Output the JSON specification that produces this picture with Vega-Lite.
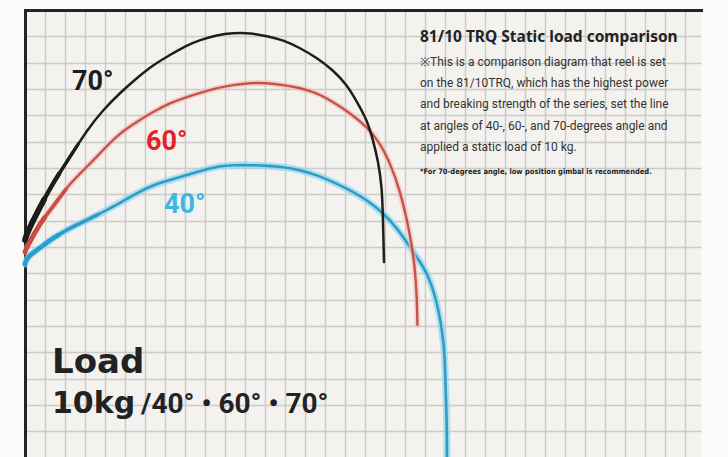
{
  "$schema": "https://vega.github.io/schema/vega-lite/v6.json",
  "width": 676,
  "height": 447,
  "autosize": {"type": "none"},
  "padding": {"left": 25, "top": 10, "right": 27, "bottom": 0},
  "background": "#fbfbfa",
  "config": {
    "view": {"fill": "#f3f2ee", "stroke": null},
    "axis": {"grid": true, "gridColor": "#cbcbc8", "gridWidth": 1.4, "domain": true, "domainColor": "#242424", "domainWidth": 3, "domainCap": "square", "ticks": false, "labels": false, "title": null}
  },
  "datasets": {
    "curves": [
      {"s": "70", "i": 0, "x": 0, "y": 8.74}, {"s": "70", "i": 1, "x": 0.1, "y": 8.47}, {"s": "70", "i": 2, "x": 0.75, "y": 7.48}, {"s": "70", "i": 3, "x": 1.4, "y": 6.57}, {"s": "70", "i": 4, "x": 2.25, "y": 5.58}, {"s": "70", "i": 5, "x": 3.1, "y": 4.56}, {"s": "70", "i": 6, "x": 3.9, "y": 3.8}, {"s": "70", "i": 7, "x": 4.75, "y": 3.15}, {"s": "70", "i": 8, "x": 5.6, "y": 2.58}, {"s": "70", "i": 9, "x": 6.4, "y": 2.09}, {"s": "70", "i": 10, "x": 7.25, "y": 1.71}, {"s": "70", "i": 11, "x": 8.0, "y": 1.37}, {"s": "70", "i": 12, "x": 8.75, "y": 1.14}, {"s": "70", "i": 13, "x": 9.6, "y": 0.95}, {"s": "70", "i": 14, "x": 10.4, "y": 0.87}, {"s": "70", "i": 15, "x": 11.25, "y": 0.87}, {"s": "70", "i": 16, "x": 12.1, "y": 0.99}, {"s": "70", "i": 17, "x": 12.9, "y": 1.14}, {"s": "70", "i": 18, "x": 13.75, "y": 1.44}, {"s": "70", "i": 19, "x": 14.6, "y": 1.82}, {"s": "70", "i": 20, "x": 15.4, "y": 2.28}, {"s": "70", "i": 21, "x": 16.1, "y": 2.85}, {"s": "70", "i": 22, "x": 16.6, "y": 3.49}, {"s": "70", "i": 23, "x": 17.1, "y": 4.18}, {"s": "70", "i": 24, "x": 17.4, "y": 4.94}, {"s": "70", "i": 25, "x": 17.65, "y": 5.7}, {"s": "70", "i": 26, "x": 17.85, "y": 6.72}, {"s": "70", "i": 27, "x": 17.9, "y": 7.98}, {"s": "70", "i": 28, "x": 17.95, "y": 9.57},
      {"s": "60", "i": 0, "x": 0, "y": 9.19}, {"s": "60", "i": 1, "x": 0.1, "y": 9.0}, {"s": "60", "i": 2, "x": 0.75, "y": 8.09}, {"s": "60", "i": 3, "x": 1.4, "y": 7.48}, {"s": "60", "i": 4, "x": 2.25, "y": 6.57}, {"s": "60", "i": 5, "x": 3.1, "y": 5.96}, {"s": "60", "i": 6, "x": 3.9, "y": 5.32}, {"s": "60", "i": 7, "x": 4.75, "y": 4.67}, {"s": "60", "i": 8, "x": 5.6, "y": 4.25}, {"s": "60", "i": 9, "x": 6.4, "y": 3.87}, {"s": "60", "i": 10, "x": 7.25, "y": 3.53}, {"s": "60", "i": 11, "x": 8.1, "y": 3.3}, {"s": "60", "i": 12, "x": 8.9, "y": 3.11}, {"s": "60", "i": 13, "x": 9.6, "y": 2.96}, {"s": "60", "i": 14, "x": 10.4, "y": 2.85}, {"s": "60", "i": 15, "x": 11.25, "y": 2.77}, {"s": "60", "i": 16, "x": 12.1, "y": 2.77}, {"s": "60", "i": 17, "x": 12.9, "y": 2.85}, {"s": "60", "i": 18, "x": 13.75, "y": 2.96}, {"s": "60", "i": 19, "x": 14.6, "y": 3.15}, {"s": "60", "i": 20, "x": 15.4, "y": 3.49}, {"s": "60", "i": 21, "x": 16.25, "y": 3.91}, {"s": "60", "i": 22, "x": 17.1, "y": 4.44}, {"s": "60", "i": 23, "x": 17.75, "y": 5.05}, {"s": "60", "i": 24, "x": 18.25, "y": 5.81}, {"s": "60", "i": 25, "x": 18.75, "y": 6.84}, {"s": "60", "i": 26, "x": 19.25, "y": 8.47}, {"s": "60", "i": 27, "x": 19.5, "y": 9.76}, {"s": "60", "i": 28, "x": 19.6, "y": 11.01}, {"s": "60", "i": 29, "x": 19.62, "y": 11.96},
      {"s": "40", "i": 0, "x": 0, "y": 9.65}, {"s": "40", "i": 1, "x": 0.1, "y": 9.38}, {"s": "40", "i": 2, "x": 0.75, "y": 9.04}, {"s": "40", "i": 3, "x": 1.4, "y": 8.66}, {"s": "40", "i": 4, "x": 2.25, "y": 8.28}, {"s": "40", "i": 5, "x": 3.1, "y": 7.98}, {"s": "40", "i": 6, "x": 3.9, "y": 7.67}, {"s": "40", "i": 7, "x": 4.75, "y": 7.33}, {"s": "40", "i": 8, "x": 5.6, "y": 6.95}, {"s": "40", "i": 9, "x": 6.4, "y": 6.65}, {"s": "40", "i": 10, "x": 7.25, "y": 6.46}, {"s": "40", "i": 11, "x": 8.1, "y": 6.27}, {"s": "40", "i": 12, "x": 8.9, "y": 6.08}, {"s": "40", "i": 13, "x": 9.75, "y": 5.92}, {"s": "40", "i": 14, "x": 10.4, "y": 5.89}, {"s": "40", "i": 15, "x": 11.25, "y": 5.89}, {"s": "40", "i": 16, "x": 12.1, "y": 5.92}, {"s": "40", "i": 17, "x": 12.9, "y": 5.96}, {"s": "40", "i": 18, "x": 13.75, "y": 6.08}, {"s": "40", "i": 19, "x": 14.6, "y": 6.27}, {"s": "40", "i": 20, "x": 15.4, "y": 6.53}, {"s": "40", "i": 21, "x": 16.25, "y": 6.84}, {"s": "40", "i": 22, "x": 17.1, "y": 7.22}, {"s": "40", "i": 23, "x": 17.9, "y": 7.71}, {"s": "40", "i": 24, "x": 18.6, "y": 8.28}, {"s": "40", "i": 25, "x": 19.25, "y": 9.0}, {"s": "40", "i": 26, "x": 19.75, "y": 9.57}, {"s": "40", "i": 27, "x": 20.1, "y": 9.99}, {"s": "40", "i": 28, "x": 20.5, "y": 10.82}, {"s": "40", "i": 29, "x": 20.75, "y": 11.66}, {"s": "40", "i": 30, "x": 20.95, "y": 12.72}, {"s": "40", "i": 31, "x": 21.0, "y": 13.56}, {"s": "40", "i": 32, "x": 21.05, "y": 14.81}, {"s": "40", "i": 33, "x": 21.1, "y": 15.95}, {"s": "40", "i": 34, "x": 21.1, "y": 16.98}
    ],
    "angles": [
      {"label": "70°", "x": 2.35, "y": 3.04},
      {"label": "60°", "x": 6.05, "y": 5.32},
      {"label": "40°", "x": 6.95, "y": 7.71}
    ],
    "notes": [
      {"kind": "title", "label": "81/10 TRQ Static load comparison", "x": 19.75, "y": 1.215},
      {"kind": "body", "label": "※This is a comparison diagram that reel is set", "x": 19.75, "y": 2.115},
      {"kind": "body", "label": "on the 81/10TRQ, which has the highest power", "x": 19.75, "y": 2.91},
      {"kind": "body", "label": "and breaking strength of the series, set the line", "x": 19.75, "y": 3.72},
      {"kind": "body", "label": "at angles of 40-, 60-, and 70-degrees angle and", "x": 19.75, "y": 4.56},
      {"kind": "body", "label": "applied a static load of 10 kg.", "x": 19.75, "y": 5.34},
      {"kind": "foot", "label": "*For 70-degrees angle, low position gimbal is recommended.", "x": 19.75, "y": 6.23},
      {"kind": "load", "label": "Load", "x": 1.35, "y": 13.79},
      {"kind": "kg", "label": "10kg", "x": 1.35, "y": 15.3},
      {"kind": "angles", "label": "/40° • 60° • 70°", "x": 5.8, "y": 15.3}
    ]
  },
  "encoding": {
    "x": {"field": "x", "type": "quantitative", "scale": {"domain": [0, 33.8], "nice": false, "zero": false}, "axis": {"orient": "top", "values": [1,2,3,4,5,6,7,8,9,10,11,12,13,14,15,16,17,18,19,20,21,22,23,24,25,26,27,28,29,30,31,32,33]}},
    "y": {"field": "y", "type": "quantitative", "scale": {"domain": [0, 16.98], "nice": false, "zero": false, "reverse": true}, "axis": {"orient": "left", "values": [1,2,3,4,5,6,7,8,9,10,11,12,13,14,15,16]}}
  },
  "layer": [
    {
      "data": {"name": "curves"},
      "transform": [{"filter": "datum.s === '40'"}],
      "mark": {"type": "line", "color": "#93d6ef", "opacity": 0.7, "strokeWidth": 7, "interpolate": "basis", "strokeCap": "round"},
      "encoding": {"order": {"field": "i"}}
    },
    {
      "data": {"name": "curves"},
      "transform": [{"filter": "datum.s === '40'"}],
      "mark": {"type": "line", "color": "#1ea2d6", "strokeWidth": 3.5, "strokeDash": [90, 3000], "interpolate": "basis", "strokeCap": "round"},
      "encoding": {"order": {"field": "i"}}
    },
    {
      "data": {"name": "curves"},
      "transform": [{"filter": "datum.s === '40'"}],
      "mark": {"type": "line", "color": "#1ea2d6", "strokeWidth": 4.5, "strokeDash": [45, 3000], "interpolate": "basis", "strokeCap": "round"},
      "encoding": {"order": {"field": "i"}}
    },
    {
      "data": {"name": "curves"},
      "transform": [{"filter": "datum.s === '40'"}],
      "mark": {"type": "line", "color": "#2f9cc6", "strokeWidth": 2.6, "interpolate": "basis", "strokeCap": "round"},
      "encoding": {"order": {"field": "i"}}
    },
    {
      "data": {"name": "curves"},
      "transform": [{"filter": "datum.s === '60'"}],
      "mark": {"type": "line", "color": "#f4c0b8", "opacity": 0.6, "strokeWidth": 6, "interpolate": "basis", "strokeCap": "round"},
      "encoding": {"order": {"field": "i"}}
    },
    {
      "data": {"name": "curves"},
      "transform": [{"filter": "datum.s === '60'"}],
      "mark": {"type": "line", "color": "#d33a30", "strokeWidth": 3.5, "strokeDash": [75, 3000], "interpolate": "basis", "strokeCap": "round"},
      "encoding": {"order": {"field": "i"}}
    },
    {
      "data": {"name": "curves"},
      "transform": [{"filter": "datum.s === '60'"}],
      "mark": {"type": "line", "color": "#d8352c", "strokeWidth": 4.5, "strokeDash": [40, 3000], "interpolate": "basis", "strokeCap": "round"},
      "encoding": {"order": {"field": "i"}}
    },
    {
      "data": {"name": "curves"},
      "transform": [{"filter": "datum.s === '60'"}],
      "mark": {"type": "line", "color": "#c4534b", "strokeWidth": 2.4, "interpolate": "basis", "strokeCap": "round"},
      "encoding": {"order": {"field": "i"}}
    },
    {
      "data": {"name": "curves"},
      "transform": [{"filter": "datum.s === '70'"}],
      "mark": {"type": "line", "color": "#1a1a1a", "strokeWidth": 3.4, "strokeDash": [110, 3000], "interpolate": "basis", "strokeCap": "round"},
      "encoding": {"order": {"field": "i"}}
    },
    {
      "data": {"name": "curves"},
      "transform": [{"filter": "datum.s === '70'"}],
      "mark": {"type": "line", "color": "#1a1a1a", "strokeWidth": 4.4, "strokeDash": [75, 3000], "interpolate": "basis", "strokeCap": "round"},
      "encoding": {"order": {"field": "i"}}
    },
    {
      "data": {"name": "curves"},
      "transform": [{"filter": "datum.s === '70'"}],
      "mark": {"type": "line", "color": "#1a1a1a", "strokeWidth": 5.8, "strokeDash": [45, 3000], "interpolate": "basis", "strokeCap": "round"},
      "encoding": {"order": {"field": "i"}}
    },
    {
      "data": {"name": "curves"},
      "transform": [{"filter": "datum.s === '70'"}],
      "mark": {"type": "line", "color": "#1e1e1e", "strokeWidth": 2.5, "interpolate": "basis", "strokeCap": "round"},
      "encoding": {"order": {"field": "i"}}
    },
    {
      "mark": {"type": "rule", "color": "#3a3a3a", "strokeWidth": 3},
      "encoding": {"x": {"datum": 33.8}, "y": {"datum": 0}, "y2": {"datum": 16.98}}
    },
    {
      "data": {"name": "angles"},
      "mark": {"type": "text", "align": "left", "baseline": "alphabetic", "font": "Roboto", "fontWeight": "bold", "fontSize": 27},
      "encoding": {"text": {"field": "label"}, "color": {"field": "label", "type": "nominal", "scale": {"domain": ["70°", "60°", "40°"], "range": ["#1c1c1c", "#e5212b", "#3bb7e4"]}, "legend": null}}
    },
    {
      "data": {"name": "notes"},
      "transform": [{"filter": "datum.kind === 'title'"}],
      "mark": {"type": "text", "align": "left", "baseline": "alphabetic", "font": "Noto Sans", "fontWeight": "bold", "fontSize": 15.5, "color": "#222222"},
      "encoding": {"text": {"field": "label"}}
    },
    {
      "data": {"name": "notes"},
      "transform": [{"filter": "datum.kind === 'body'"}],
      "mark": {"type": "text", "align": "left", "baseline": "alphabetic", "font": "Roboto", "fontSize": 12, "color": "#333333"},
      "encoding": {"text": {"field": "label"}}
    },
    {
      "data": {"name": "notes"},
      "transform": [{"filter": "datum.kind === 'foot'"}],
      "mark": {"type": "text", "align": "left", "baseline": "alphabetic", "font": "DejaVu Sans Condensed", "fontWeight": "bold", "fontSize": 7.5, "color": "#222222"},
      "encoding": {"text": {"field": "label"}}
    },
    {
      "data": {"name": "notes"},
      "transform": [{"filter": "datum.kind === 'load'"}],
      "mark": {"type": "text", "align": "left", "baseline": "alphabetic", "font": "DejaVu Sans", "fontWeight": "bold", "fontSize": 34, "color": "#222222"},
      "encoding": {"text": {"field": "label"}}
    },
    {
      "data": {"name": "notes"},
      "transform": [{"filter": "datum.kind === 'kg'"}],
      "mark": {"type": "text", "align": "left", "baseline": "alphabetic", "font": "DejaVu Sans", "fontWeight": "bold", "fontSize": 30, "color": "#222222"},
      "encoding": {"text": {"field": "label"}}
    },
    {
      "data": {"name": "notes"},
      "transform": [{"filter": "datum.kind === 'angles'"}],
      "mark": {"type": "text", "align": "left", "baseline": "alphabetic", "font": "Roboto", "fontWeight": "bold", "fontSize": 28, "color": "#222222"},
      "encoding": {"text": {"field": "label"}}
    }
  ]
}
